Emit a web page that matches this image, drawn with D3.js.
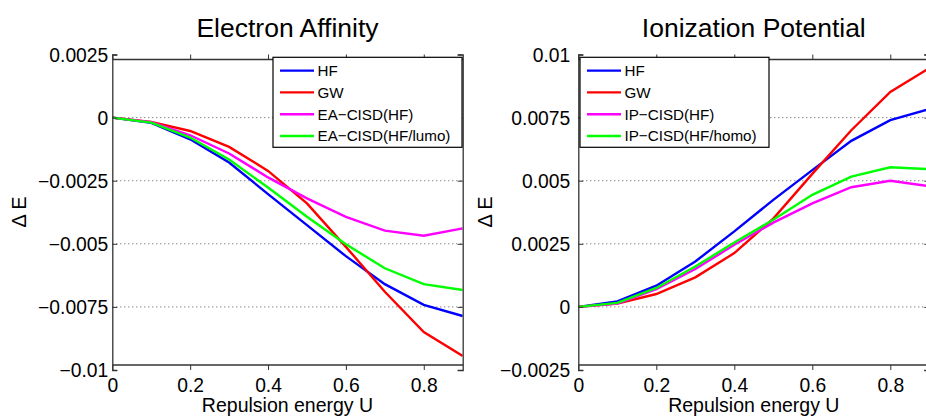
<!DOCTYPE html>
<html><head><meta charset="utf-8">
<script src="https://cdn.jsdelivr.net/npm/d3@7"></script>
<style>body{margin:0;background:#fff}svg{display:block}text{font-family:"Liberation Sans",Arial,sans-serif;fill:#000}</style>
</head><body><svg id="c" width="926" height="416"></svg>
<script>
const U = [0,0.1,0.2,0.3,0.4,0.5,0.6,0.7,0.8,0.9];
const xTicks = [0,0.2,0.4,0.6,0.8];
const eaTicks = [0.0025,0,-0.0025,-0.005,-0.0075,-0.01];
const ipTicks = [0.01,0.0075,0.005,0.0025,0,-0.0025];
const eaHF    = [0,-0.00021,-0.00086,-0.00178,-0.00303,-0.00426,-0.00549,-0.0066,-0.00742,-0.00786];
const eaGW    = [0,-0.00017,-0.00053,-0.00116,-0.00211,-0.0034,-0.00512,-0.0069,-0.0085,-0.00944];
const eaCI    = [0,-0.00018,-0.0007,-0.00142,-0.00237,-0.0032,-0.00393,-0.00448,-0.00468,-0.00439];
const eaCIL   = [0,-0.0002,-0.00079,-0.00166,-0.00277,-0.00393,-0.00502,-0.00597,-0.0066,-0.00683];
const ipHF    = [0,0.00022,0.00084,0.0018,0.00299,0.00424,0.00542,0.00658,0.0074,0.00784];
const ipGW    = [0,0.00013,0.00051,0.00117,0.00213,0.0035,0.00527,0.007,0.00852,0.00946];
const ipCI    = [0,0.00013,0.0007,0.0015,0.00246,0.00334,0.0041,0.00474,0.005,0.00478];
const ipCIH   = [0,0.00016,0.00075,0.0016,0.00255,0.00345,0.00444,0.00516,0.00553,0.00546];
const colors = ["#0000ff","#ff0000","#ff00ff","#00ff00"];
const eaNames = ["HF","GW","EA\u2212CISD(HF)","EA\u2212CISD(HF/lumo)"];
const ipNames = ["HF","GW","IP\u2212CISD(HF)","IP\u2212CISD(HF/homo)"];

const svg = d3.select("#c");
function fmt(v){ if(v===0) return "0"; let s = String(+v.toFixed(6)); return s.replace("-","\u2212"); }

function panel(o){
  const g = svg.append("g");
  const x = d3.scaleLinear().domain([0,0.9]).range([o.x0,o.x1]);
  const y = d3.scaleLinear().domain(o.ydom).range([o.y1,o.y0]);
  g.selectAll(".grid").data(o.yticks.filter(t=>t!==o.ydom[0]&&t!==o.ydom[1])).enter().append("line")
    .attr("x1",o.x0).attr("x2",o.x1).attr("y1",d=>y(d)).attr("y2",d=>y(d))
    .attr("stroke","#555").attr("stroke-width",1).attr("stroke-dasharray","1,3");
  const line = d3.line().x((d,i)=>x(U[i])).y(d=>y(d));
  const clip = "clip"+o.id;
  svg.append("clipPath").attr("id",clip).append("rect").attr("x",o.x0).attr("y",o.y0).attr("width",o.x1-o.x0).attr("height",o.y1-o.y0);
  o.series.forEach((s,i)=>{
    g.append("path").attr("d",line(s)).attr("fill","none").attr("stroke",colors[i]).attr("stroke-width",2.4)
     .attr("clip-path","url(#"+clip+")");
  });
  const ax = g.append("g").attr("transform",`translate(0,${o.y1})`).call(d3.axisBottom(x).tickValues(xTicks).tickSize(-5).tickPadding(8).tickFormat(d=>d===0?"0":d3.format(".1f")(d)));
  const axT = g.append("g").attr("transform",`translate(0,${o.y0})`).call(d3.axisTop(x).tickValues(xTicks).tickSize(-5).tickFormat(""));
  const ay = g.append("g").attr("transform",`translate(${o.x0},0)`).call(d3.axisLeft(y).tickValues(o.yticks).tickSize(-5).tickPadding(o.ypad).tickFormat(fmt));
  const ayR = g.append("g").attr("transform",`translate(${o.x1},0)`).call(d3.axisRight(y).tickValues(o.yticks).tickSize(-5).tickFormat(""));
  [ax,axT,ay,ayR].forEach(a=>{a.selectAll("path").attr("stroke","#333").attr("stroke-width",1.3); a.selectAll("line").attr("stroke","#333"); a.selectAll("text").attr("font-size",19.3).attr("font-family","Liberation Sans, Arial, sans-serif").attr("fill","#000");});
  ay.selectAll("text").attr("dy","0.36em");
  [ax,axT,ay,ayR].forEach(a=>a.select(".domain").attr("d", function(){ return d3.select(this).attr("d").replace(/M([\d.-]+),([\d.-]+)V[\d.-]+/, "M$1,$2").replace(/V[\d.-]+$/,""); }));
  g.append("text").attr("x",(o.x0+o.x1)/2).attr("y",37).attr("text-anchor","middle").attr("font-size",26.5).text(o.title);
  g.append("text").attr("x",(o.x0+o.x1)/2).attr("y",412).attr("text-anchor","middle").attr("font-size",19.5).text("Repulsion energy U");
  g.append("text").attr("transform",`translate(${o.ylx},212) rotate(-90)`).attr("text-anchor","middle").attr("font-size",20).text("\u0394 E");
  const lg = g.append("g").attr("transform",`translate(${o.lx},57.3)`);
  lg.append("rect").attr("width",189).attr("height",90).attr("fill","#fff").attr("stroke","#000").attr("stroke-width",1.2);
  o.names.forEach((n,i)=>{
    const yy = 13.3 + i*21.8;
    lg.append("line").attr("x1",7).attr("x2",41).attr("y1",yy).attr("y2",yy).attr("stroke",colors[i]).attr("stroke-width",2.4);
    lg.append("text").attr("x",44.5).attr("y",yy+5.5).attr("font-size",15.2).text(n);
  });
}
panel({id:"a",x0:112.3,x1:462.7,y0:54.5,y1:370,ydom:[-0.01,0.0025],yticks:eaTicks,series:[eaHF,eaGW,eaCI,eaCIL],names:eaNames,title:"Electron Affinity",ylx:26,lx:273,ypad:4});
panel({id:"b",x0:578.3,x1:929.3,y0:54.5,y1:370,ydom:[-0.0025,0.01],yticks:ipTicks,series:[ipHF,ipGW,ipCI,ipCIH],names:ipNames,title:"Ionization Potential",ylx:492,lx:580,ypad:8});
</script></body></html>
